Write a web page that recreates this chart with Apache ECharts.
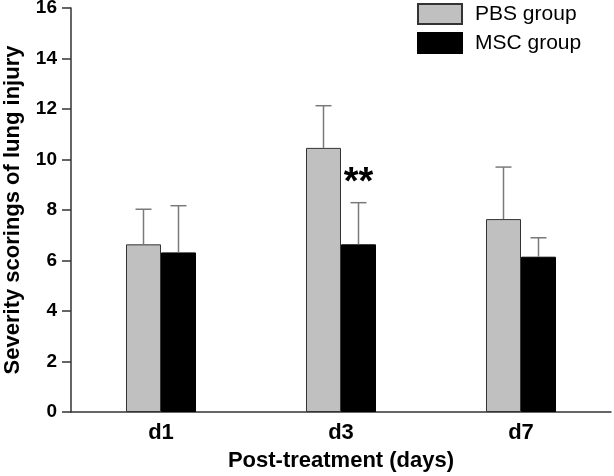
<!DOCTYPE html>
<html><head><meta charset="utf-8">
<script src="https://cdn.jsdelivr.net/npm/echarts@6/dist/echarts.min.js"></script>
<style>html,body{margin:0;padding:0;background:#fff}#c{width:614px;height:476px}</style>
</head><body><div id="c"></div>
<script>
const categories = ['d1', 'd3', 'd7'];
const pbsMean = [6.64, 10.46, 7.64];
const pbsUpper = [8.03, 12.13, 9.70];
const mscMean = [6.32, 6.64, 6.15];
const mscUpper = [8.17, 8.29, 6.90];
const yMin = 0, yMax = 16, yStep = 2;
const sigMark = { category: 'd3', value: 9.3, text: '**' };

const FONT = '"Liberation Sans", Arial, sans-serif';
const BAR_W = 35;

function errSeries(means, uppers, offset) {
  return {
    type: 'custom',
    silent: true,
    z: 5,
    data: means.map((m, i) => [i, m, uppers[i]]),
    renderItem: function (params, api) {
      const base = api.coord([api.value(0), api.value(1)]);
      const top = api.coord([api.value(0), api.value(2)]);
      const x = base[0] + offset;
      const half = 8;
      const style = { stroke: '#7a7a7a', lineWidth: 1.5 };
      return {
        type: 'group',
        children: [
          { type: 'line', shape: { x1: x, y1: base[1], x2: x, y2: top[1] }, style },
          { type: 'line', shape: { x1: x - half, y1: top[1], x2: x + half, y2: top[1] }, style }
        ]
      };
    }
  };
}

const chart = echarts.init(document.getElementById('c'), null, { renderer: 'canvas' });
chart.setOption({
  animation: false,
  backgroundColor: '#fff',
  grid: { left: 71, right: 3, top: 8, bottom: 64, containLabel: false, outerBoundsMode: 'none' },
  legend: {
    orient: 'vertical',
    left: 417, top: 3, padding: 0,
    itemWidth: 44, itemHeight: 20, itemGap: 7,
    icon: 'rect',
    data: ['PBS group', 'MSC group'],
    textStyle: { fontFamily: FONT, fontSize: 21, color: '#000', padding: [0, 0, 0, 8] }
  },
  xAxis: {
    type: 'category',
    data: categories,
    name: 'Post-treatment (days)',
    nameLocation: 'middle',
    nameGap: 38,
    nameTextStyle: { fontFamily: FONT, fontSize: 22, fontWeight: 'bold', color: '#000' },
    axisLine: { lineStyle: { color: '#333', width: 1.5 } },
    axisTick: { show: false },
    axisLabel: { margin: 10, fontFamily: FONT, fontSize: 22, fontWeight: 'bold', color: '#000' }
  },
  yAxis: {
    type: 'value',
    min: yMin, max: yMax, interval: yStep,
    name: 'Severity scorings of lung injury',
    nameLocation: 'middle',
    nameGap: 47,
    nameTextStyle: { fontFamily: FONT, fontSize: 22, fontWeight: 'bold', color: '#000' },
    splitLine: { show: false },
    axisLine: { show: true, lineStyle: { color: '#333', width: 1.5 } },
    axisTick: { show: true, length: 9, lineStyle: { color: '#333', width: 1.5 } },
    axisLabel: { margin: 14, fontFamily: FONT, fontSize: 19, fontWeight: 'bold', color: '#000' }
  },
  series: [
    {
      name: 'PBS group', type: 'bar', data: pbsMean, barWidth: BAR_W, barGap: '0%',
      itemStyle: { color: '#c0c0c0', borderColor: '#333', borderWidth: 1 }
    },
    {
      name: 'MSC group', type: 'bar', data: mscMean, barWidth: BAR_W, barGap: '0%',
      itemStyle: { color: '#000', borderColor: '#000', borderWidth: 1 },
      markPoint: {
        symbol: 'circle', symbolSize: 0,
        data: [{ coord: [sigMark.category, sigMark.value] }],
        label: { show: true, position: 'inside', formatter: sigMark.text, offset: [0, 6],
          fontFamily: FONT, fontSize: 38, fontWeight: 'bold', color: '#000' }
      }
    },
    errSeries(pbsMean, pbsUpper, -BAR_W / 2),
    errSeries(mscMean, mscUpper, BAR_W / 2)
  ]
});
</script></body></html>
